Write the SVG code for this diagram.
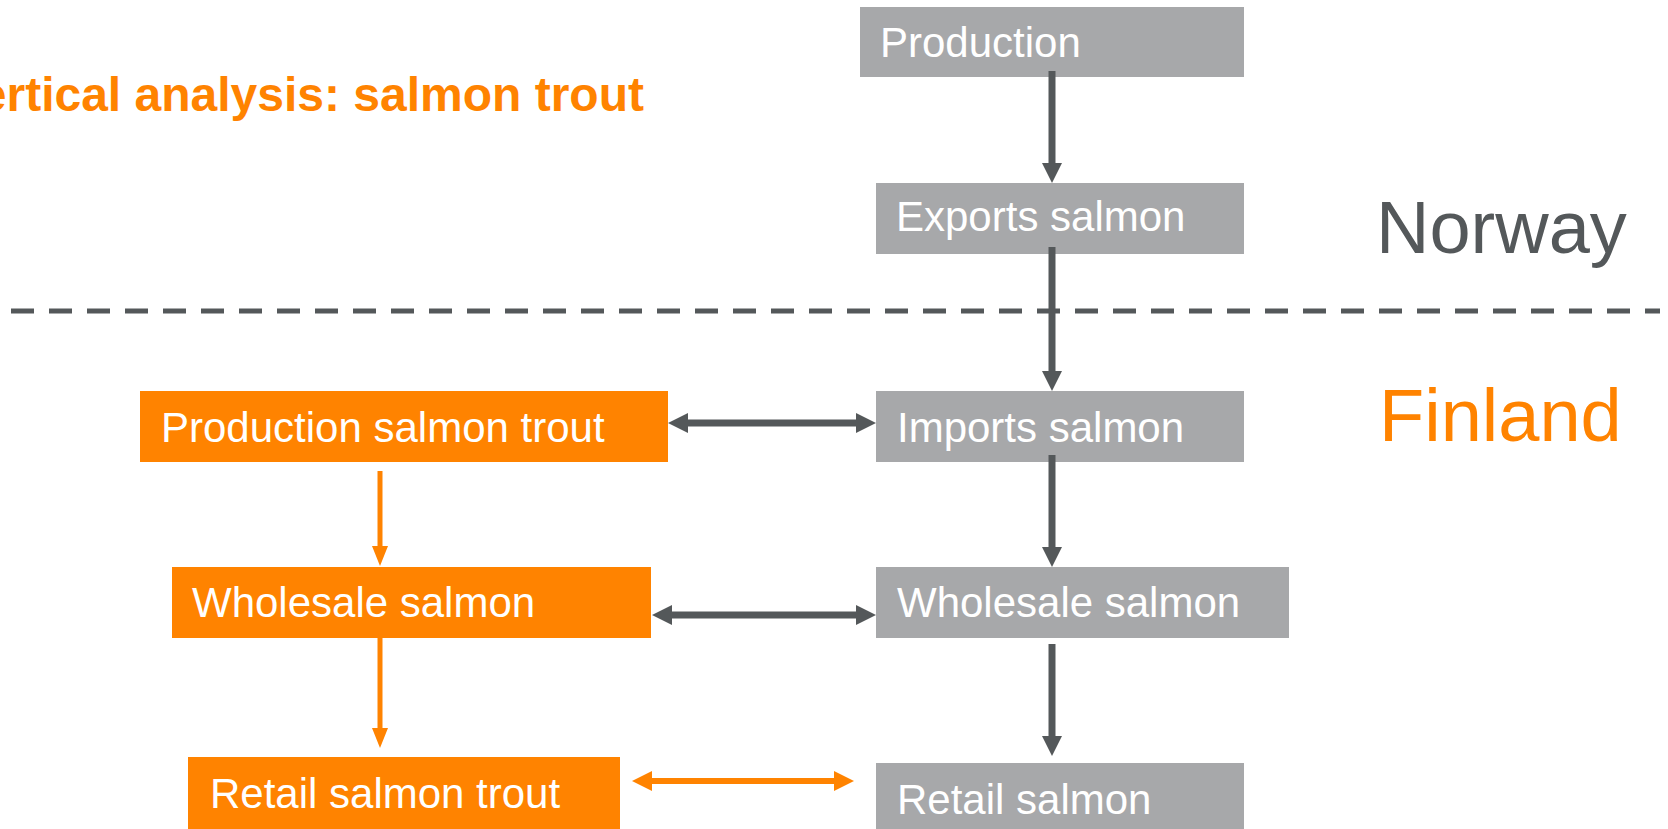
<svg xmlns="http://www.w3.org/2000/svg" width="1668" height="829" viewBox="0 0 1668 829">
  <style>
    .grey { fill: #A7A8AA; }
    .orange { fill: #FF8300; }
    .lbl { font-family: "Liberation Sans", Arial, sans-serif; font-size: 42px; fill: #FFFFFF; }
    .country { font-family: "Liberation Sans", Arial, sans-serif; font-size: 74px; }
    .dark-line { stroke: #54585A; stroke-width: 7; fill: none; }
    .orange-line { stroke: #FF8300; stroke-width: 6; fill: none; }
    .orange-vline { stroke: #FF8300; stroke-width: 5; fill: none; }
  </style>
  <defs>
    <marker id="ahDark" markerUnits="userSpaceOnUse" markerWidth="20" markerHeight="20" viewBox="0 0 20 20" refX="2" refY="10" orient="auto-start-reverse">
      <path d="M0,0 L20,10 L0,20 z" fill="#54585A"/>
    </marker>
    <marker id="ahOrange" markerUnits="userSpaceOnUse" markerWidth="20" markerHeight="20" viewBox="0 0 20 20" refX="2" refY="10" orient="auto-start-reverse">
      <path d="M0,0 L20,10 L0,20 z" fill="#FF8300"/>
    </marker>
    <marker id="ahOrangeV" markerUnits="userSpaceOnUse" markerWidth="20" markerHeight="16" viewBox="0 0 20 16" refX="2" refY="8" orient="auto-start-reverse">
      <path d="M0,0 L20,8 L0,16 z" fill="#FF8300"/>
    </marker>
  </defs>

  <rect width="1668" height="829" fill="#FFFFFF"/>

  <text id="title" x="644" y="111" text-anchor="end" font-family="'Liberation Sans', Arial, sans-serif" font-size="48" font-weight="bold" fill="#FF8300">Vertical analysis: salmon trout</text>

  <line id="border" x1="11" y1="311" x2="1660" y2="311" stroke="#54585A" stroke-width="5" stroke-dasharray="23 15"/>

  <text id="norway" class="country" x="1376" y="253" fill="#54585A">Norway</text>
  <text id="finland" class="country" x="1379" y="441" fill="#FF8300">Finland</text>

  <g id="node-production">
    <rect class="grey" x="860" y="7" width="384" height="70"/>
    <text class="lbl" x="880" y="57">Production</text>
  </g>
  <g id="node-exports">
    <rect class="grey" x="876" y="183" width="368" height="71"/>
    <text class="lbl" x="896" y="231">Exports salmon</text>
  </g>
  <g id="node-imports">
    <rect class="grey" x="876" y="391" width="368" height="71"/>
    <text class="lbl" x="897" y="442">Imports salmon</text>
  </g>
  <g id="node-wholesale-grey">
    <rect class="grey" x="876" y="567" width="413" height="71"/>
    <text class="lbl" x="897" y="617">Wholesale salmon</text>
  </g>
  <g id="node-retail-grey">
    <rect class="grey" x="876" y="763" width="368" height="66"/>
    <text class="lbl" x="897" y="814">Retail salmon</text>
  </g>
  <g id="node-production-trout">
    <rect class="orange" x="140" y="391" width="528" height="71"/>
    <text class="lbl" x="161" y="442">Production salmon trout</text>
  </g>
  <g id="node-wholesale-orange">
    <rect class="orange" x="172" y="567" width="479" height="71"/>
    <text class="lbl" x="192" y="617">Wholesale salmon</text>
  </g>
  <g id="node-retail-trout">
    <rect class="orange" x="188" y="757" width="432" height="72"/>
    <text class="lbl" x="210" y="808">Retail salmon trout</text>
  </g>

  <g id="connectors">
    <line class="dark-line" x1="1052" y1="71" x2="1052" y2="165" marker-end="url(#ahDark)"/>
    <line class="dark-line" x1="1052" y1="247" x2="1052" y2="373" marker-end="url(#ahDark)"/>
    <line class="dark-line" x1="1052" y1="455" x2="1052" y2="549" marker-end="url(#ahDark)"/>
    <line class="dark-line" x1="1052" y1="644" x2="1052" y2="738" marker-end="url(#ahDark)"/>
    <line class="dark-line" x1="686" y1="423" x2="858" y2="423" marker-start="url(#ahDark)" marker-end="url(#ahDark)"/>
    <line class="dark-line" x1="670" y1="615" x2="858" y2="615" marker-start="url(#ahDark)" marker-end="url(#ahDark)"/>
    <line class="orange-line" x1="650" y1="781" x2="836" y2="781" marker-start="url(#ahOrange)" marker-end="url(#ahOrange)"/>
    <line class="orange-vline" x1="380" y1="471" x2="380" y2="548" marker-end="url(#ahOrangeV)"/>
    <line class="orange-vline" x1="380" y1="638" x2="380" y2="730" marker-end="url(#ahOrangeV)"/>
  </g>
</svg>
